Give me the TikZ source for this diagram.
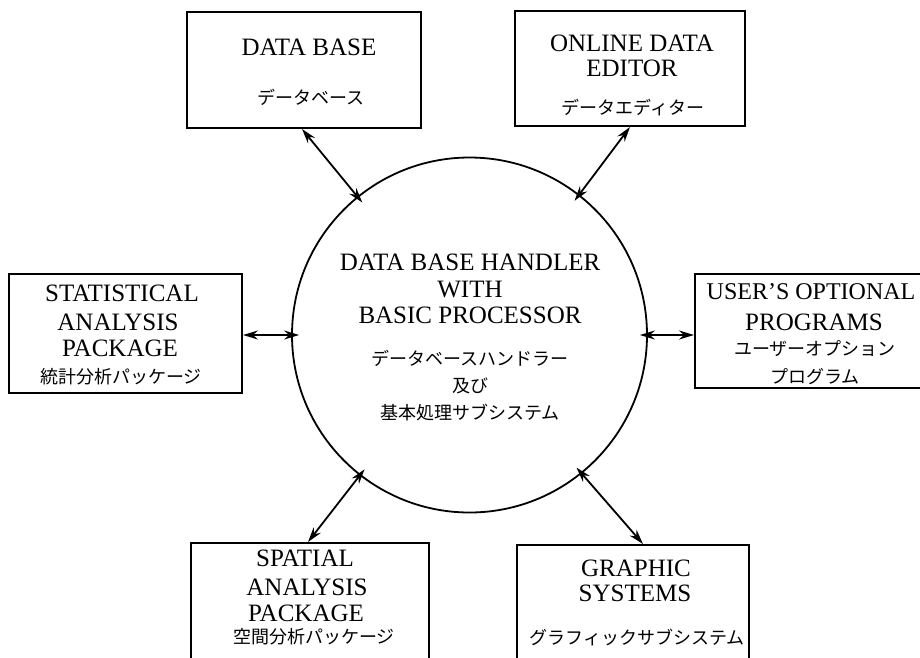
\documentclass[tikz,border=0pt]{standalone}
\usepackage{fontspec}
\setmainfont{Liberation Serif}
\newfontfamily\jpfont{Noto Sans CJK JP}
\usetikzlibrary{arrows.meta}
\begin{document}
\begin{tikzpicture}[x=1pt,y=-1pt,
  box/.style={draw, line width=2pt, inner sep=0pt},
  hub/.style={draw, circle, line width=1.8pt, inner sep=0pt, minimum size=355pt},
  en/.style={font=\fontsize{25}{25}\selectfont, inner sep=0pt},
  ja/.style={font=\jpfont\fontsize{18}{18}\selectfont, inner sep=0pt},
  link/.style={line width=1.8pt, shorten >=-8pt,
    {Stealth[length=15pt,width=9pt,inset=5pt]}-{Stealth[length=15pt,width=9pt,inset=5pt]}}]
\useasboundingbox (0,0) rectangle (920,657);

% central circle
\node[hub] (c) at (469.5,335) {};
\node[en] (c1) at (470,262) {DATA BASE HANDLER};
\node[en] (c2) at (470,289) {WITH};
\node[en] (c3) at (470,315) {BASIC PROCESSOR};
\node[ja] (c4) at (470,358) {データベースハンドラー};
\node[ja] (c5) at (470,386) {及び};
\node[ja] (c6) at (470,413) {基本処理サブシステム};

% boxes
\node[box, minimum width=234pt, minimum height=116pt] (db) at (304,70) {};
\node[en] (db1) at (309,47) {DATA BASE};
\node[ja] (db2) at (311,97) {データベース};

\node[box, minimum width=230pt, minimum height=115pt] (ode) at (630,68.5) {};
\node[en] (ode1) at (632,43) {ONLINE DATA};
\node[en] (ode2) at (632,68) {EDITOR};
\node[ja] (ode3) at (633,108) {データエディター};

\node[box, minimum width=233pt, minimum height=119pt] (st) at (125.5,333.5) {};
\node[en] (st1) at (122,293) {STATISTICAL};
\node[en] (st2) at (118,322) {ANALYSIS};
\node[en] (st3) at (120,348) {PACKAGE};
\node[ja] (st4) at (121,377) {統計分析パッケージ};

\node[box, minimum width=240pt, minimum height=114pt] (us) at (815,331) {};
\node[en, font=\fontsize{24}{24}\selectfont] (us1) at (811,292) {USER’S OPTIONAL};
\node[en] (us2) at (814,322) {PROGRAMS};
\node[ja] (us3) at (815,349) {ユーザーオプション};
\node[ja] (us4) at (815,377) {プログラム};

\node[box, minimum width=238pt, minimum height=119pt] (sp) at (310,602.5) {};
\node[en] (sp1) at (305,558) {SPATIAL};
\node[en] (sp2) at (307,587) {ANALYSIS};
\node[en] (sp3) at (306,613) {PACKAGE};
\node[ja] (sp4) at (314,637) {空間分析パッケージ};

\node[box, minimum width=232pt, minimum height=117pt] (gs) at (633,603.5) {};
\node[en] (gs1) at (636,568) {GRAPHIC};
\node[en] (gs2) at (635,593) {SYSTEMS};
\node[ja] (gs3) at (637,637) {グラフィックサブシステム};

% connectors
\draw[link] ([xshift=-2pt]db.south) -- (c.129);
\draw[link] (ode.south) -- (c.52.5);
\draw[link] ([yshift=-1.5pt]st.east) -- (c.180);
\draw[link] ([yshift=-4pt]us.west) -- (c.0);
\draw[link] ([xshift=-2pt]sp.north) -- (c.232);
\draw[link] ([xshift=10pt]gs.north) -- (c.309.6);
\end{tikzpicture}
\end{document}
